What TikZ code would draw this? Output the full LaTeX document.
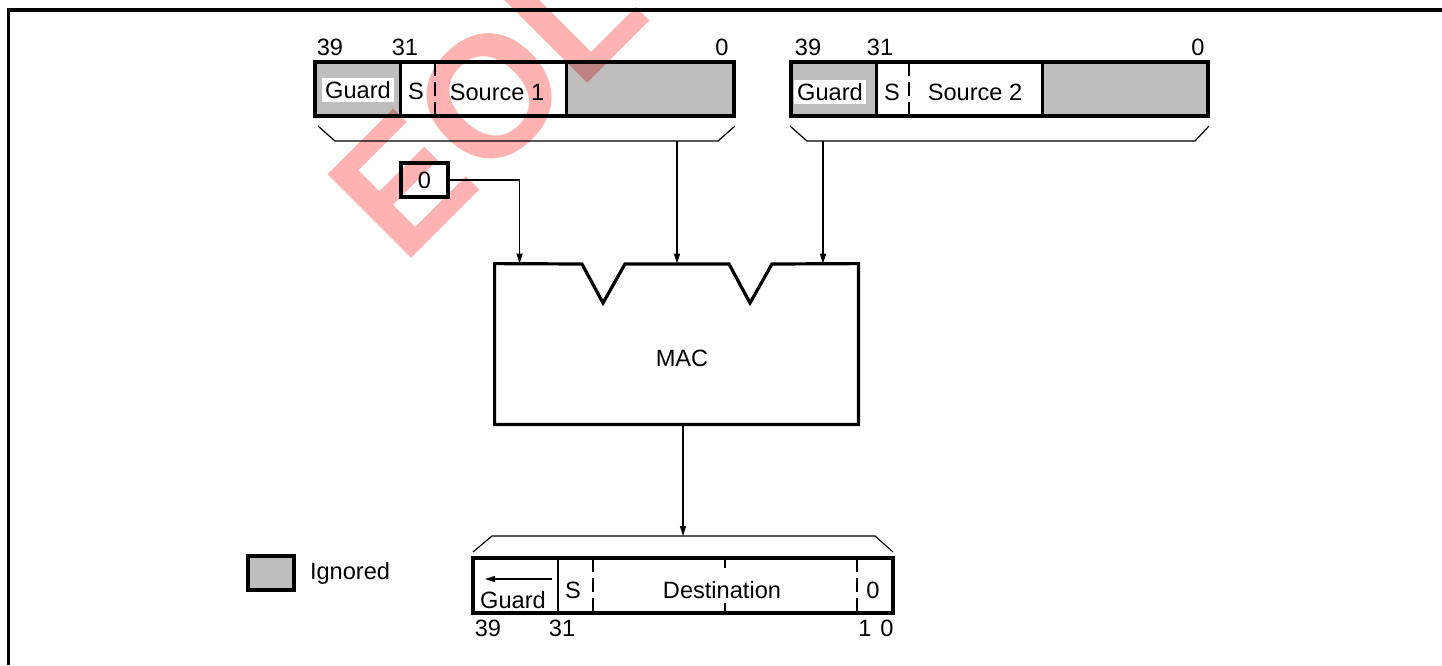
\documentclass[tikz,border=0pt]{standalone}
\usepackage{fontspec}
\setmainfont{Liberation Sans}
\usetikzlibrary{positioning,arrows.meta,calc}
\definecolor{eolred}{RGB}{255,178,178}

\begin{document}
\begin{tikzpicture}[
    x=0.5pt, y=-0.5pt,
    lbl/.style={font=\fontsize{11.8}{13}\selectfont, inner sep=0pt},
    reg/.style={draw, line width=1.6pt, inner sep=0pt, minimum height=27pt},
    ignbox/.style={fill=black, fill opacity=0.255, inner sep=0pt, minimum height=27pt},
    divider/.style={line width=1.3pt},
    dashdiv/.style={line width=1.3pt, dash pattern=on 7pt off 3pt},
    brace/.style={line width=0.6pt},
    arrow/.style={-{Triangle[length=5pt,width=3pt]}, line width=0.7pt}
]
\useasboundingbox (0,0) rectangle (1442,665);

% Watermark
\node[text=eolred, rotate=45, inner sep=0pt, font=\fontsize{86}{86}\selectfont\bfseries] (eol) at (487,100) {EOL};

% Frame
\draw[line width=1.7pt] (8.3,665) -- (8.3,10) -- (1442,10);

% Source 1 register
\node[ignbox, minimum width=42.5pt] (guard1) at (357.5,89) {};
\node[ignbox, minimum width=83.5pt] (ign1) at (650.5,89) {};
\node[reg, minimum width=209.5pt] (reg1) at (524.5,89) {};
\draw[divider] (guard1.north east) -- (guard1.south east);
\draw[divider] (ign1.north west) -- (ign1.south west);
\draw[dashdiv] (435,62) -- (435,116);
\node[lbl, fill=white, inner sep=1.5pt] (glbl1) at (358,90) {Guard};
\node[lbl] (slbl1) at (416,91) {S};
\node[lbl] (src1) at (497,92) {Source 1};
\node[lbl] (b39a) at (330,47) {39};
\node[lbl] (b31a) at (405,47) {31};
\node[lbl] (b0a) at (722,47) {0};
\draw[brace] (318,126) -- (335,141) -- (718,141) -- (735,126);
\coordinate (br1) at (677,141);

% Source 2 register
\node[ignbox, minimum width=42.5pt] (guard2) at (833.5,89) {};
\node[ignbox, minimum width=82.5pt] (ign2) at (1125.5,89) {};
\node[reg, minimum width=208.5pt] (reg2) at (999.5,89) {};
\draw[divider] (guard2.north east) -- (guard2.south east);
\draw[divider] (ign2.north west) -- (ign2.south west);
\draw[dashdiv] (909,62) -- (909,116);
\node[lbl, fill=white, inner sep=1.5pt] (glbl2) at (830,92) {Guard};
\node[lbl] (slbl2) at (892,92) {S};
\node[lbl] (src2) at (975,92) {Source 2};
\node[lbl] (b39b) at (808,47) {39};
\node[lbl] (b31b) at (880,47) {31};
\node[lbl] (b0b) at (1198,47) {0};
\draw[brace] (790,126) -- (807,141) -- (1195,141) -- (1209,126);
\coordinate (br2) at (823,141);

% Zero input
\node[lbl, draw, line width=1.6pt, minimum width=23.5pt, minimum height=17pt] (zero) at (424.5,180) {0};

% MAC unit
\node[minimum width=181.5pt, minimum height=80pt, inner sep=0pt] (mac) at (676.5,344) {};
\draw[line width=1.6pt] (mac.north west) -- (582,264) -- (603,303) -- (625,264)
    -- (729,264) -- (750,303) -- (772,264) -- (mac.north east)
    -- (mac.south east) -- (mac.south west) -- cycle;
\node[lbl] (maclbl) at (682,358) {MAC};

% Inputs
\draw[arrow] (zero.east) -| ($(mac.north west)+(25,0)$);
\draw[arrow] (br1) -- (br1 |- mac.north);
\draw[arrow] (br2) -- (br2 |- mac.north);

% Destination register
\node[reg, minimum width=210pt, minimum height=27.5pt] (dest) at (683,585.5) {};
\draw[divider] (558,558) -- (558,613);
\draw[dashdiv] (593,558) -- (593,613);
\draw[dashdiv] (857,558) -- (857,613);
\draw[divider] (725,558) -- (725,568);
\draw[divider] (725,603) -- (725,613);
\draw[brace] (473,552) -- (492,536) -- (875,536) -- (893,552);
\coordinate (br3) at (683,536);
\draw[arrow] ($(mac.south)+(6.5,0)$) -- (br3);
\draw[arrow] (552,579) -- (485,579);
\node[lbl] (glbl3) at (513,600) {Guard};
\node[lbl] (slbl3) at (573,590) {S};
\node[lbl] (dst) at (722,590) {Destination};
\node[lbl] (zlbl3) at (873,590) {0};
\node[lbl] (b39c) at (488,628) {39};
\node[lbl] (b31c) at (562,628) {31};
\node[lbl] (b1c) at (865,628) {1};
\node[lbl] (b0c) at (887,628) {0};

% Legend
\node[ignbox, draw, draw opacity=1, line width=1.6pt, minimum width=23pt, minimum height=17pt] (legend) at (271,573) {};
\node[lbl, right=7pt of legend] (ignlbl) {Ignored};

\end{tikzpicture}
\end{document}
